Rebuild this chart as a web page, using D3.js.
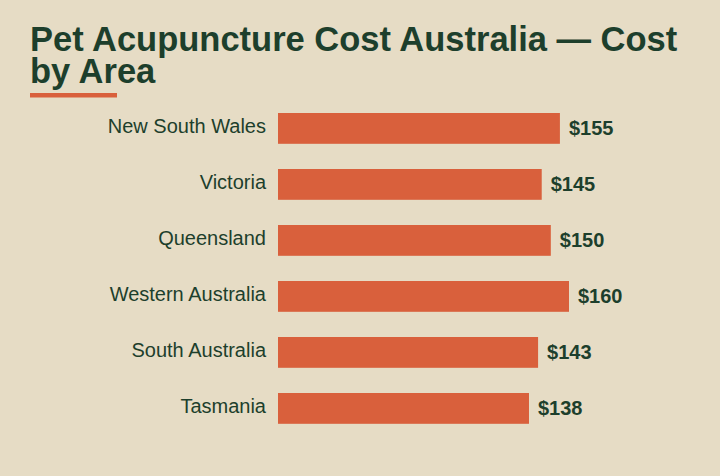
<!DOCTYPE html>
<html>
<head>
<meta charset="utf-8">
<script src="https://cdn.jsdelivr.net/npm/d3@7"></script>
<style>
  html, body { margin: 0; padding: 0; background: #e6dcc5; }
  svg { display: block; }
</style>
</head>
<body>
<svg id="chart" width="720" height="476"></svg>
<script>

// data
var regions = ["New South Wales", "Victoria", "Queensland", "Western Australia", "South Australia", "Tasmania"];
var costs = [155, 145, 150, 160, 143, 138];
var titleLines = ["Pet Acupuncture Cost Australia \u2014 Cost", "by Area"];

var svg = d3.select("#chart");

var bg = "#e6dcc5";
var ink = "#1d3f2c";
var barColor = "#d9603c";
var font = "'Liberation Sans', Arial, sans-serif";

svg.append("rect")
    .attr("width", 720)
    .attr("height", 476)
    .attr("fill", bg);

// title
var title = svg.append("text")
    .attr("x", 30)
    .attr("fill", ink)
    .attr("font-family", font)
    .attr("font-weight", "bold")
    .attr("font-size", "34.5px");

title.selectAll("tspan")
    .data(titleLines)
    .enter()
    .append("tspan")
    .attr("x", 30)
    .attr("y", function (d, i) { return 51 + i * 32; })
    .text(function (d) { return d; });

// accent under the title
svg.append("rect")
    .attr("x", 30)
    .attr("y", 93)
    .attr("width", 87)
    .attr("height", 4.5)
    .attr("fill", barColor);

// scales
var x = d3.scaleLinear()
    .domain([0, d3.max(costs)])
    .range([278, 569]);

var y = d3.scaleBand()
    .domain(regions)
    .range([100.4, 436.4])
    .paddingInner(0.45)
    .paddingOuter(0.225);

var rows = svg.selectAll("g.row")
    .data(regions)
    .enter()
    .append("g")
    .attr("class", "row");

rows.append("rect")
    .attr("x", x(0))
    .attr("y", function (d) { return y(d); })
    .attr("width", function (d, i) { return x(costs[i]) - x(0); })
    .attr("height", y.bandwidth())
    .attr("fill", barColor);

rows.append("text")
    .attr("x", 266)
    .attr("y", function (d) { return y(d) + y.bandwidth() / 2 + 4.5; })
    .attr("text-anchor", "end")
    .attr("fill", ink)
    .attr("font-family", font)
    .attr("font-size", "20px")
    .text(function (d) { return d; });

rows.append("text")
    .attr("x", function (d, i) { return x(costs[i]) + 9; })
    .attr("y", function (d) { return y(d) + y.bandwidth() / 2 + 6.5; })
    .attr("fill", ink)
    .attr("font-family", font)
    .attr("font-weight", "bold")
    .attr("font-size", "20px")
    .text(function (d, i) { return "$" + costs[i]; });

</script>
</body>
</html>
